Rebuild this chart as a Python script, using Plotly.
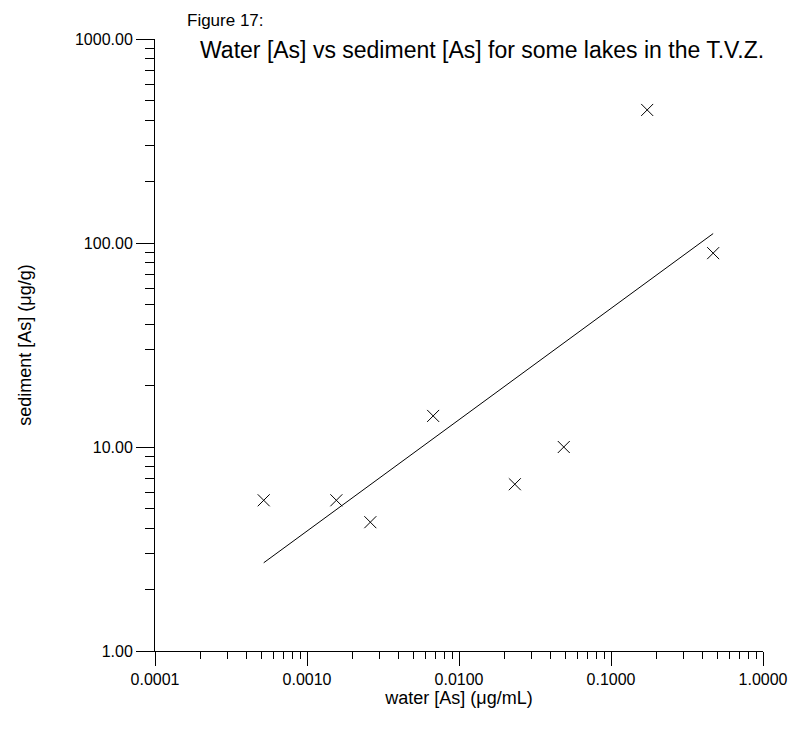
import numpy as np
import plotly.graph_objects as go

# data
water_as = [0.000519, 0.00156, 0.00261, 0.00676, 0.0233, 0.0489, 0.173, 0.470]
sediment_as = [5.48, 5.48, 4.28, 14.2, 6.57, 10.0, 449.0, 89.2]

x_tickvals = [0.0001, 0.001, 0.01, 0.1, 1.0]
x_ticktext = ["0.0001", "0.0010", "0.0100", "0.1000", "1.0000"]
y_tickvals = [1, 10, 100, 1000]
y_ticktext = ["1.00", "10.00", "100.00", "1000.00"]

x_minor = [m * 10.0 ** e for e in range(-4, 0) for m in range(2, 10)]
y_minor = [m * 10.0 ** e for e in range(0, 3) for m in range(2, 10)]

# log-log least squares trend line spanning the data
lx = np.log10(water_as)
ly = np.log10(sediment_as)
slope, icpt = np.polyfit(lx, ly, 1)
fit_x = [min(water_as), max(water_as)]
fit_y = [10 ** (icpt + slope * np.log10(v)) for v in fit_x]

fig = go.Figure()
fig.add_trace(go.Scatter(x=fit_x, y=fit_y, mode="lines",
                         line=dict(color="black", width=1), showlegend=False))
fig.add_trace(go.Scatter(x=water_as, y=sediment_as, mode="markers",
                         marker=dict(symbol="x-thin", size=12,
                                     line=dict(color="black", width=1)),
                         showlegend=False))

fam = "Liberation Sans, Arial, sans-serif"
fig.update_layout(
    width=800, height=731,
    margin=dict(l=155, r=35, t=39, b=80),
    paper_bgcolor="white", plot_bgcolor="white",
    font=dict(family=fam, size=16, color="black"),
    xaxis=dict(type="log", range=[-4, 0], showgrid=False, zeroline=False,
               showline=True, linecolor="black", linewidth=1,
               tickmode="array", tickvals=x_tickvals, ticktext=x_ticktext,
               tickfont=dict(size=16),
               ticks="outside", ticklen=14, tickwidth=1, tickcolor="black",
               minor=dict(tickmode="array", tickvals=x_minor, ticks="outside",
                          ticklen=7, tickwidth=1, tickcolor="black", showgrid=False),
               title=dict(text="water [As] (\u03bcg/mL)", font=dict(size=18), standoff=0)),
    yaxis=dict(type="log", range=[0, 3], showgrid=False, zeroline=False,
               showline=True, linecolor="black", linewidth=1,
               tickmode="array", tickvals=y_tickvals, ticktext=y_ticktext,
               tickfont=dict(size=16),
               ticks="outside", ticklen=18, tickwidth=1, tickcolor="black",
               minor=dict(tickmode="array", tickvals=y_minor, ticks="outside",
                          ticklen=9, tickwidth=1, tickcolor="black", showgrid=False),
               title=dict(text="sediment [As] (\u03bcg/g)", font=dict(size=18), standoff=38)),
    annotations=[
        dict(text="Figure 17:", xref="paper", yref="paper", x=(185 - 155) / 610, y=1 + (39 - 20) / 612,
             xanchor="left", yanchor="middle", showarrow=False,
             font=dict(family=fam, size=17)),
        dict(text="Water [As] vs sediment [As] for some lakes in the T.V.Z.", xref="paper", yref="paper",
             x=(198 - 155) / 610, y=1 - (50 - 39) / 612,
             xanchor="left", yanchor="middle", showarrow=False,
             font=dict(family=fam, size=23)),
    ],
)
fig.write_html("out.html")
